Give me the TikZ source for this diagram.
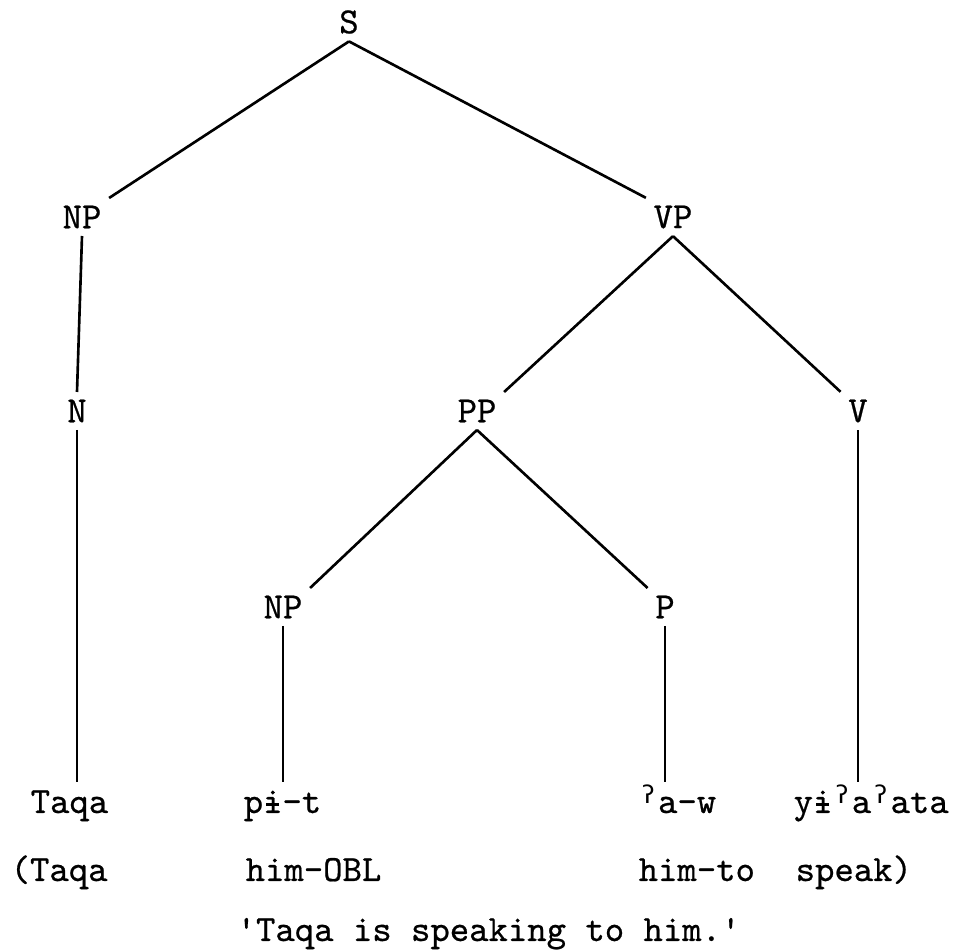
\documentclass[tikz,border=0pt]{standalone}
\usepackage{fontspec}
\newfontfamily\typefont[FakeBold=0.6]{Latin Modern Mono}
\newfontfamily\ipafont{DejaVu Sans Mono}
\usetikzlibrary{positioning,calc}

\newcommand{\colwd}{\fontcharwd\font`\a}
\newcommand{\barri}{\makebox[\colwd]{i}\kern-\colwd\makebox[\colwd]{\rule[0.2em]{0.36em}{0.07em}}}
\newcommand{\glot}{\makebox[\colwd]{\raisebox{0.6ex}{\fontsize{7}{7}\selectfont\ipafont ʔ}}}

\begin{document}
\begin{tikzpicture}[
    font=\typefont\fontsize{10.5}{12}\selectfont,
    catlabel/.style={inner sep=2pt},
    wordlabel/.style={anchor=base west, inner xsep=0pt, inner ysep=2.5pt, text height=0.62em, text depth=0.2em},
    branch/.style={line width=0.75pt, draw=black}
]
    \useasboundingbox (0,0) rectangle (9.57,9.52);

    % Categories
    \node[catlabel] (s) at (3.49, 9.30) {S};
    \node[catlabel] (np_subj) at (0.82, 7.35) {NP};
    \node[catlabel] (vp) at (6.73, 7.35) {VP};
    \node[catlabel] (n) at (0.77, 5.41) {N};
    \node[catlabel] (pp) at (4.77, 5.41) {PP};
    \node[catlabel] (v) at (8.58, 5.41) {V};
    \node[catlabel] (np_obj) at (2.83, 3.45) {NP};
    \node[catlabel] (p) at (6.65, 3.45) {P};

    % Words
    \node[wordlabel] (w_taqa) at (0.30, 1.39) {Taqa};
    \node[wordlabel] (w_pit) at (2.43, 1.39) {p\barri-t};
    \node[wordlabel] (w_aw) at (6.38, 1.39) {\glot a-w};
    \node[wordlabel] (w_speak) at (7.93, 1.39) {y\barri\glot a\glot ata};

    % Glosses
    \node[wordlabel] (g_taqa) at (0.10, 0.71) {(Taqa};
    \node[wordlabel] (g_pit) at (2.45, 0.71) {him-OBL};
    \node[wordlabel] (g_aw) at (6.38, 0.71) {him-to};
    \node[wordlabel] (g_speak) at (7.95, 0.71) {speak)};
    \node[wordlabel] (transl) at (2.36, 0.11) {'Taqa is speaking to him.'};

    % Branches
    \draw[branch] (s.south) -- (np_subj.north east);
    \draw[branch] (s.south) -- (vp.north west);
    \draw[branch] (np_subj.south) -- (n.north);
    \draw[branch] (vp.south) -- (pp.north east);
    \draw[branch] (vp.south) -- (v.north west);
    \draw[branch] (pp.south) -- (np_obj.north east);
    \draw[branch] (pp.south) -- (p.north west);

    \draw[branch] (n.south) -- (n.south |- w_taqa.north);
    \draw[branch] (np_obj.south) -- (np_obj.south |- w_pit.north);
    \draw[branch] (p.south) -- (p.south |- w_aw.north);
    \draw[branch] (v.south) -- (v.south |- w_speak.north);

\end{tikzpicture}
\end{document}
